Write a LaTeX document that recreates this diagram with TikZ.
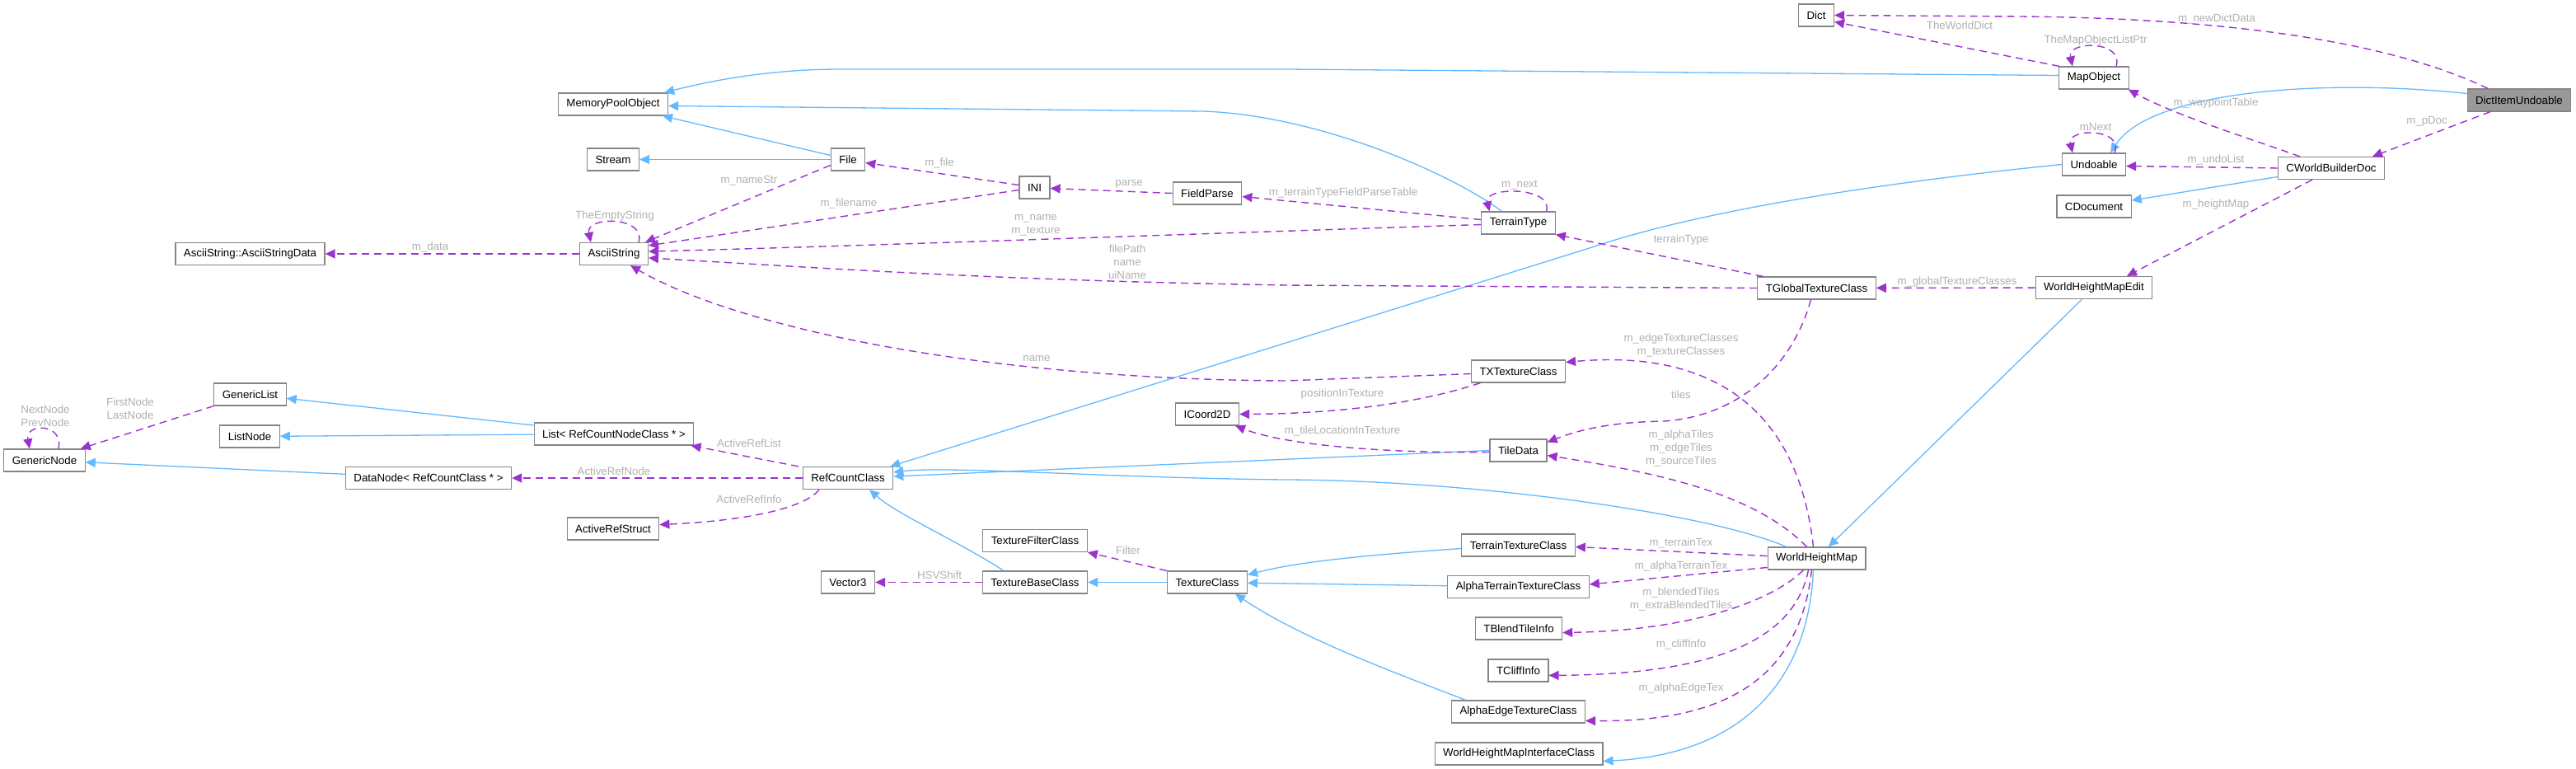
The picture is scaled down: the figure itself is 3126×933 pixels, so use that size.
\documentclass[tikz,border=0pt]{standalone}
\usepackage{fontspec}
\setmainfont{Liberation Sans}
\usepackage{tikz}
\usetikzlibrary{arrows.meta}
\definecolor{inhblue}{HTML}{63B8FF}
\definecolor{mbrpurple}{HTML}{9A32CD}
\definecolor{lblgray}{HTML}{B0B0B0}
\definecolor{boxgray}{HTML}{858585}
\definecolor{hlgray}{HTML}{999999}
\newcommand{\dxfont}{\fontsize{13.3}{15.8}\selectfont}

\begin{document}
\begin{tikzpicture}[x=1pt,y=-1pt,
  box/.style={draw=boxgray,line width=1.2pt,fill=white,font=\dxfont,
              minimum height=27pt,inner xsep=10pt,inner ysep=0pt},
  lbl/.style={font=\dxfont,text=lblgray,inner sep=0pt,align=center},
  inh/.style={draw=inhblue,line width=1.3pt,-{Triangle[length=12pt,width=11pt]}},
  mbr/.style={draw=mbrpurple,line width=1.4pt,dash pattern=on 9pt off 6pt,
              -{Triangle[length=12pt,width=11pt]}}]
\useasboundingbox (0,0) rectangle (3126,933);
% classes
\node[box] (dict)    at (2204,18.5)   {Dict};
\node[box,fill=hlgray] (diu) at (3057,121.5) {DictItemUndoable};
\node[box] (mapobj)  at (2541,94.5)   {MapObject};
\node[box] (undo)    at (2541,199.5)  {Undoable};
\node[box] (wbdoc)   at (2829,204)    {CWorldBuilderDoc};
\node[box] (cdoc)    at (2541,250.5)  {CDocument};
\node[box] (hmedit)  at (2541,349)    {WorldHeightMapEdit};
\node[box] (mpool)   at (744,126.5)   {MemoryPoolObject};
\node[box] (stream)  at (744,193.5)   {Stream};
\node[box] (file)    at (1029,193.5)  {File};
\node[box] (ini)     at (1255.5,227.5) {INI};
\node[box] (fparse)  at (1465,234.5)  {FieldParse};
\node[box] (ttype)   at (1842.5,270.5) {TerrainType};
\node[box] (asdata)  at (303.5,308)   {AsciiString::AsciiStringData};
\node[box] (astr)    at (745,308)     {AsciiString};
\node[box] (gtex)    at (2204.5,349.5) {TGlobalTextureClass};
\node[box] (txtex)   at (1842.5,450.5) {TXTextureClass};
\node[box] (icoord)  at (1465,502.5)  {ICoord2D};
\node[box] (tile)    at (1842.5,546.5) {TileData};
\node[box] (glist)   at (303.5,478.5) {GenericList};
\node[box] (lnode)   at (303,529.5)   {ListNode};
\node[box] (gnode)   at (54,558.5)    {GenericNode};
\node[box] (list)    at (745,526.5)   {List< RefCountNodeClass * >};
\node[box] (dnode)   at (520,580)     {DataNode< RefCountClass * >};
\node[box] (refc)    at (1029,580)    {RefCountClass};
\node[box] (aref)    at (744,641.5)   {ActiveRefStruct};
\node[box] (tfilter) at (1256,656)    {TextureFilterClass};
\node[box] (vec3)    at (1029,706.5)  {Vector3};
\node[box] (tbase)   at (1256,706.5)  {TextureBaseClass};
\node[box] (tclass)  at (1465,706.5)  {TextureClass};
\node[box] (ttex)    at (1842.5,661.5) {TerrainTextureClass};
\node[box] (attex)   at (1842.5,712)  {AlphaTerrainTextureClass};
\node[box] (blend)   at (1843,762.5)  {TBlendTileInfo};
\node[box] (cliff)   at (1842.5,813.5) {TCliffInfo};
\node[box] (aetex)   at (1842.5,863.5) {AlphaEdgeTextureClass};
\node[box] (whm)     at (2204.5,677.5) {WorldHeightMap};
\node[box] (whmi)    at (1843,914.5)  {WorldHeightMapInterfaceClass};
% inheritance
\draw[inh] ([yshift=3pt]mapobj.west) -- (1560,84) -- (1020,84) .. controls (940,84) and (870,96) .. ([xshift=-5pt]mpool.north east);
\draw[inh] ([xshift=-20pt]ttype.north) .. controls (1760,210) and (1600,140) .. (1460,135) -- ([yshift=-2pt]mpool.east);
\draw[inh] (file) -- (mpool);
\draw[inh] (file) -- (stream);
\draw[inh] (undo.west) .. controls (2250,225) and (2050,260) .. (1932,300) -- ([xshift=-4pt]refc.north east);
\draw[inh] ([yshift=8pt]diu.west) .. controls (2820,95) and (2610,110) .. ([xshift=20pt]undo.north);
\draw[inh] (wbdoc) -- (cdoc);
\draw[inh] (hmedit) -- (whm);
\draw[inh] ([xshift=-4pt]whm.south) .. controls (2195,820) and (2120,915) .. ([yshift=-9pt]whmi.east);
\draw[inh] (list) -- (glist);
\draw[inh] (list) -- (lnode);
\draw[inh] (dnode) -- (gnode);
\draw[inh] (tile.west) -- ([yshift=2pt]refc.east);
\draw[inh] ([xshift=-37pt]whm.north) .. controls (2080,625) and (1800,583) .. (1560,582) .. controls (1350,580) and (1150,565) .. ([yshift=7pt]refc.east);
\draw[inh] ([xshift=-38pt]tbase.north) .. controls (1160,655) and (1090,625) .. ([xshift=26pt]refc.south);
\draw[inh] (tclass) -- (tbase);
\draw[inh] ([yshift=-4pt]ttex.west) .. controls (1680,672) and (1580,680) .. ([yshift=9pt]tclass.east);
\draw[inh] (attex) -- (tclass);
\draw[inh] ([xshift=-64pt]aetex.north) .. controls (1690,815) and (1580,775) .. ([xshift=34pt]tclass.south);
% members
\draw[mbr] ([xshift=-38pt]diu.north) .. controls (2900,50) and (2700,22) .. (2450,20) -- (dict.east);
\draw[mbr] ([xshift=-42pt]mapobj.north) -- ([yshift=-8pt]dict.east);
\draw[mbr] ([xshift=27pt]mapobj.north) .. controls (2578,49) and (2508,49) .. ([xshift=-26pt]mapobj.north);
\draw[mbr] ([xshift=-38pt]wbdoc.north) .. controls (2730,168) and (2640,140) .. ([xshift=-1pt]mapobj.south east);
\draw[mbr] ([xshift=25pt]undo.north) .. controls (2578,155) and (2508,155) .. ([xshift=-26pt]undo.north);
\draw[mbr] (wbdoc.west) -- ([yshift=-2pt]undo.east);
\draw[mbr] ([xshift=-35pt]diu.south) -- ([xshift=50pt]wbdoc.north);
\draw[mbr] ([xshift=-23pt]wbdoc.south) -- ([xshift=40pt]hmedit.north);
\draw[mbr] (hmedit) -- (gtex);
\draw[mbr] ([xshift=-65pt]gtex.north) -- (ttype.south east);
\draw[mbr] (gtex.west) -- (1560,346) .. controls (1200,340) and (1000,325) .. ([yshift=-5pt]astr.east);
\draw[mbr] ([yshift=-2pt]ttype.west) .. controls (1500,282) and (1000,300) .. ([yshift=3pt]astr.east);
\draw[mbr] ([yshift=4pt]ttype.west) -- ([yshift=-4pt]fparse.east);
\draw[mbr] ([xshift=34pt]ttype.north) .. controls (1886,226) and (1800,226) .. ([xshift=-35pt]ttype.north);
\draw[mbr] (fparse.west) -- ([yshift=-1pt]ini.east);
\draw[mbr] ([yshift=3pt]ini.west) -- ([yshift=-4pt]file.east);
\draw[mbr] ([yshift=-3pt]ini.west) -- ([yshift=10pt]astr.east);
\draw[mbr] ([yshift=-7pt]file.west) -- ([xshift=-4pt]astr.north east);
\draw[mbr] ([xshift=30pt]astr.north) .. controls (785,262) and (710,262) .. ([xshift=-28pt]astr.north);
\draw[mbr] (astr) -- (asdata);
\draw[mbr] ([yshift=-3pt]txtex.west) -- (1560,462) .. controls (1200,460) and (900,400) .. ([xshift=20pt]astr.south);
\draw[mbr] ([xshift=-46pt]txtex.south) .. controls (1720,490) and (1620,502) .. (icoord.east);
\draw[mbr] ([yshift=-2pt]tile.west) .. controls (1680,550) and (1560,540) .. ([xshift=34pt]icoord.south);
\draw[mbr] ([xshift=-60pt]refc.north) -- ([xshift=-4pt]list.south east);
\draw[mbr] (refc) -- (dnode);
\draw[mbr] ([xshift=-35pt]refc.south) .. controls (975,618) and (900,632) .. ([yshift=5pt]aref.east);
\draw[mbr] (glist.south west) -- ([xshift=-6pt]gnode.north east);
\draw[mbr] ([xshift=17pt]gnode.north) .. controls (78,513) and (30,513) .. ([xshift=-18pt]gnode.north);
\draw[mbr] (tbase) -- (vec3);
\draw[mbr] (tclass.north west) -- (tfilter.south east);
\draw[mbr] ([xshift=-4pt]whm.north) .. controls (2180,480) and (2060,425) .. ([yshift=11pt]txtex.east);
\draw[mbr] ([xshift=-7pt]gtex.south) .. controls (2175,445) and (2110,505) .. (2019,511) .. controls (1960,512) and (1920,520) .. ([yshift=10pt]tile.east);
\draw[mbr] ([xshift=-12pt]whm.north) .. controls (2130,600) and (2020,575) .. ([yshift=-6pt]tile.east);
\draw[mbr] ([yshift=3pt]whm.west) -- ([yshift=-2pt]ttex.east);
\draw[mbr] ([yshift=-11pt]whm.west) -- ([yshift=3pt]attex.east);
\draw[mbr] ([xshift=-16pt]whm.south) .. controls (2150,730) and (2050,765) .. ([yshift=-5pt]blend.east);
\draw[mbr] ([xshift=-10pt]whm.south) .. controls (2175,790) and (2050,818) .. ([yshift=-6pt]cliff.east);
\draw[mbr] ([xshift=-6pt]whm.south) .. controls (2182,840) and (2070,876) .. ([yshift=-11pt]aetex.east);
% labels
\node[lbl] (lnewdict) at (2690,23)   {m\_newDictData};
\node[lbl] (lwdict)   at (2378,31)   {TheWorldDict};
\node[lbl] (lmoptr)   at (2543,49)   {TheMapObjectListPtr};
\node[lbl] (lwaypt)   at (2689,125)  {m\_waypointTable};
\node[lbl] (lnext)    at (2543,154)  {mNext};
\node[lbl] (lundo)    at (2689,194)  {m\_undoList};
\node[lbl] (lpdoc)    at (2945,147)  {m\_pDoc};
\node[lbl] (lhmap)    at (2689,248)  {m\_heightMap};
\node[lbl] (lgtc)     at (2375,342)  {m\_globalTextureClasses};
\node[lbl] (lttype)   at (2040,291)  {terrainType};
\node[lbl] (lpath)    at (1368,318)  {filePath\\name\\uiName};
\node[lbl] (lname)    at (1257,273)  {m\_name\\m\_texture};
\node[lbl] (lfpt)     at (1630,234)  {m\_terrainTypeFieldParseTable};
\node[lbl] (ltnext)   at (1844,225)  {m\_next};
\node[lbl] (lparse)   at (1370,223)  {parse};
\node[lbl] (lfile)    at (1140,198)  {m\_file};
\node[lbl] (lfname)   at (1030,247)  {m\_filename};
\node[lbl] (lnamestr) at (909,219)   {m\_nameStr};
\node[lbl] (lempty)   at (746,262)   {TheEmptyString};
\node[lbl] (ldata)    at (522,300)   {m\_data};
\node[lbl] (ltxname)  at (1258,435)  {name};
\node[lbl] (lpos)     at (1629,478)  {positionInTexture};
\node[lbl] (ltileloc) at (1629,523)  {m\_tileLocationInTexture};
\node[lbl] (lreflist) at (909,538)   {ActiveRefList};
\node[lbl] (lrefnode) at (745,572)   {ActiveRefNode};
\node[lbl] (lrefinfo) at (909,606)   {ActiveRefInfo};
\node[lbl] (lfirst)   at (158,496)   {FirstNode\\LastNode};
\node[lbl] (lgnext)   at (55,505)    {NextNode\\PrevNode};
\node[lbl] (lhsv)     at (1140,698)  {HSVShift};
\node[lbl] (lfilter)  at (1369,668)  {Filter};
\node[lbl] (ledge)    at (2040,419)  {m\_edgeTextureClasses\\m\_textureClasses};
\node[lbl] (ltiles)   at (2040,479)  {tiles};
\node[lbl] (latiles)  at (2040,544)  {m\_alphaTiles\\m\_edgeTiles\\m\_sourceTiles};
\node[lbl] (lterr)    at (2040,659)  {m\_terrainTex};
\node[lbl] (latt)     at (2040,687)  {m\_alphaTerrainTex};
\node[lbl] (lblend)   at (2040,727)  {m\_blendedTiles\\m\_extraBlendedTiles};
\node[lbl] (lcliff)   at (2040,782)  {m\_cliffInfo};
\node[lbl] (laet)     at (2040,835)  {m\_alphaEdgeTex};
\end{tikzpicture}
\end{document}
